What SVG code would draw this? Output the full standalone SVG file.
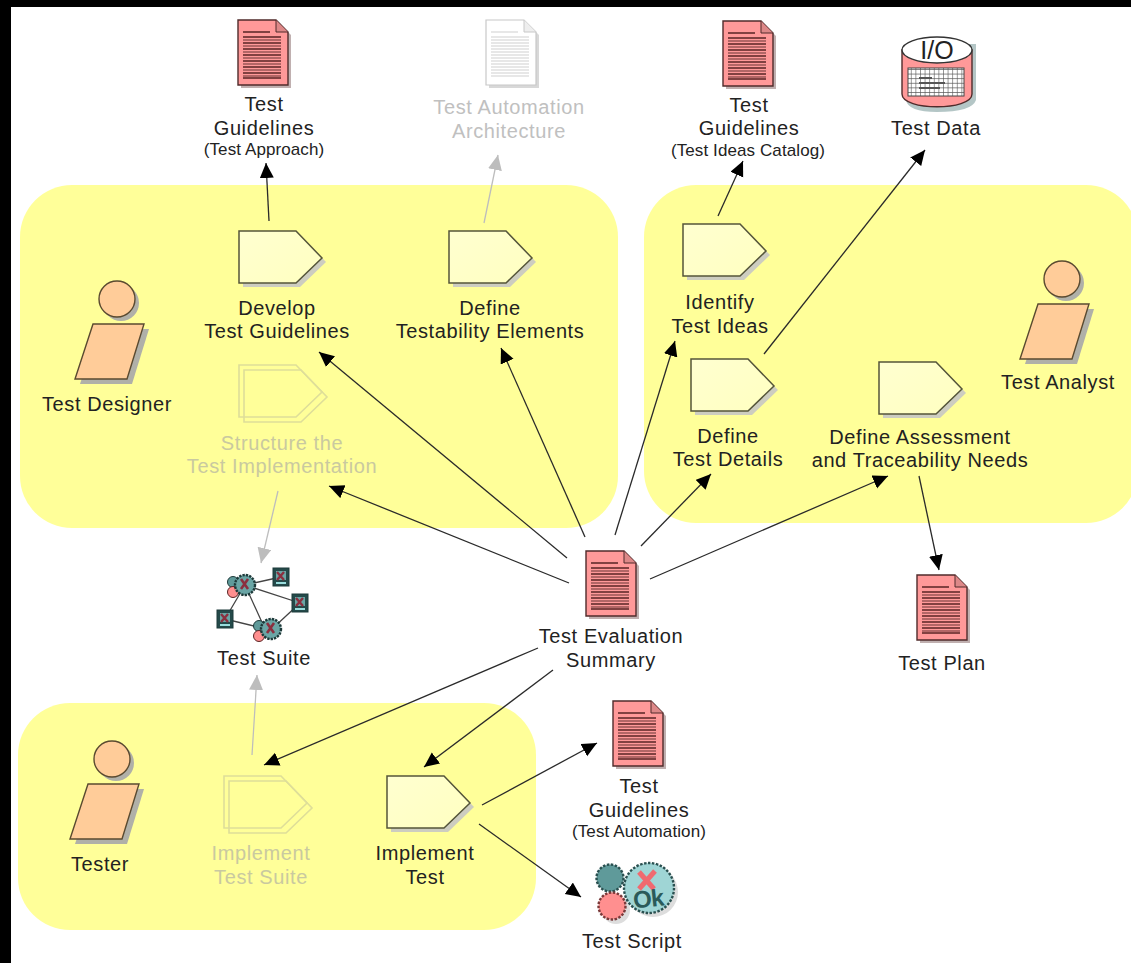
<svg xmlns="http://www.w3.org/2000/svg" width="1131" height="963" viewBox="0 0 1131 963">
<style>
text{font-family:"Liberation Sans",Arial,sans-serif;font-size:20px;letter-spacing:.6px;text-anchor:middle;fill:#222}
.s{font-size:17px;letter-spacing:.1px}
.g{fill:#c0c0c0}
.gy{fill:#c9c9a0}
.r{fill:#ffff99}
.c line{stroke:#2a2a2a;stroke-width:1.3;marker-end:url(#a)}
.c line.l{stroke:#bdbdbd;marker-end:url(#b)}
</style>
<defs>
<marker id="a" markerUnits="userSpaceOnUse" markerWidth="16" markerHeight="16" refX="15" refY="7" orient="auto"><path d="M0 0L15 7L0 14Z" fill="#000"/></marker>
<marker id="b" markerUnits="userSpaceOnUse" markerWidth="16" markerHeight="16" refX="15" refY="7" orient="auto"><path d="M0 0L15 7L0 14Z" fill="#bdbdbd"/></marker>
<linearGradient id="tg" x1="0" y1="0" x2="1" y2="1"><stop offset="0" stop-color="#ffffd0"/><stop offset="1" stop-color="#ffffc0"/></linearGradient>
<g id="task">
<path d="M4 4H61L87 31L61 56H4Z" fill="#cdcdc0"/>
<path d="M0 0H57L83 27L57 52H0Z" fill="url(#tg)" stroke="#55553a" stroke-width="1.5"/>
</g>
<g id="ghost" fill="none" stroke="#dede99" stroke-width="1.6">
<path d="M0 0H57L83 27L57 52H0Z"/>
<path d="M5 5H62L88 32L62 57H5Z"/>
</g>
<g id="doc">
<path d="M3 3H41L53 15V68H3Z" fill="#c0b0b0"/>
<path d="M0 0H38L50 12V65H0Z" fill="#ff9999" stroke="#502b2b" stroke-width="1.4"/>
<path d="M38 0V12H50" fill="#d88" stroke="#502b2b" stroke-width="1"/>
<path d="M5 12H32M5 17H43M5 23H43M5 29H43M5 35H43M5 41H43M5 47H43M5 53H43M5 58H43" stroke="#5a2525" stroke-width="1.3" fill="none"/>
<path d="M5 20H43M5 26H43M5 32H43M5 38H43M5 44H43M5 50H43M5 56H43" stroke="#9a5555" stroke-width="1.3" fill="none"/>
</g>
<g id="gdoc">
<path d="M3 3H41L53 15V68H3Z" fill="#d8d8d8"/>
<path d="M0 0H38L50 12V65H0Z" fill="#fff" stroke="#c8c8c8" stroke-width="1.2"/>
<path d="M38 0V12H50" fill="#eee" stroke="#c8c8c8"/>
<path d="M5 12H32M5 17H43M5 20H43M5 23H43M5 26H43M5 29H43M5 32H43M5 35H43M5 38H43M5 41H43M5 44H43M5 47H43M5 50H43M5 53H43M5 56H43" stroke="#cfcfcf" stroke-width="1" fill="none"/>
</g>
<g id="actor">
<circle cx="46" cy="-21" r="18" fill="#b0b0a8"/>
<path d="M23 5H74L57 60H5Z" fill="#b0b0a8"/>
<circle cx="42" cy="-25" r="18" fill="#ffcc99" stroke="#5a4a30" stroke-width="1.4"/>
<path d="M18 0H69L52 55H0Z" fill="#ffcc99" stroke="#5a4a30" stroke-width="1.4"/>
</g>
<g id="sq">
<rect x="-8" y="-9" width="16" height="18" fill="#244a4a" stroke="#1d3a3a"/>
<rect x="-5" y="-6" width="10" height="9" fill="#6aa5a5"/>
<path d="M-4 -5L3 3M3 -5L-4 3" stroke="#8b2f3f" stroke-width="2.4"/>
<rect x="-5" y="5" width="10" height="2" fill="#9dd"/>
</g>
<g id="clu">
<circle cx="-12" cy="-3" r="5.5" fill="#5f9a9a" stroke="#1d3a3a"/>
<circle cx="-12" cy="7" r="5.5" fill="#ff8f8f" stroke="#5a2525"/>
<circle cx="0" cy="0" r="10" fill="#6aa5a5" stroke="#1d3a3a" stroke-width="2.4" stroke-dasharray="2.4 1"/>
<path d="M-4 -6L3 4M3 -6L-4 4" stroke="#8b2f3f" stroke-width="2.6"/>
</g>
<pattern id="grid" width="4.6" height="4.6" patternUnits="userSpaceOnUse"><rect width="4.6" height="4.6" fill="#fff"/><path d="M0 0H4.6M0 0V4.6" stroke="#555" stroke-width="1.2"/></pattern>
</defs>

<rect width="1131" height="963" fill="#fff"/>
<rect width="1131" height="7" fill="#000"/>
<rect width="11" height="963" fill="#000"/>

<g id="regions">
<rect class="r" x="20" y="185" width="598" height="343" rx="52"/>
<rect class="r" x="644" y="185" width="494" height="338" rx="52"/>
<rect class="r" x="18" y="703" width="518" height="227" rx="52"/>
</g>

<g id="connectors" class="c">
<line x1="269" y1="221" x2="266" y2="163"/>
<line class="l" x1="484" y1="223" x2="498" y2="155"/>
<line x1="718" y1="216" x2="743" y2="161"/>
<line x1="764" y1="354" x2="925" y2="150"/>
<line x1="567" y1="558" x2="319" y2="352"/>
<line x1="585" y1="537" x2="501" y2="348"/>
<line x1="569" y1="583" x2="329" y2="486"/>
<line x1="615" y1="535" x2="675" y2="341"/>
<line x1="641" y1="546" x2="711" y2="474"/>
<line x1="650" y1="579" x2="888" y2="476"/>
<line x1="919" y1="476" x2="939" y2="570"/>
<line class="l" x1="278" y1="491" x2="261" y2="563"/>
<line class="l" x1="252" y1="755" x2="257" y2="675"/>
<line x1="538" y1="648" x2="264" y2="765"/>
<line x1="553" y1="670" x2="424" y2="767"/>
<line x1="482" y1="805" x2="597" y2="743"/>
<line x1="479" y1="824" x2="581" y2="897"/>
</g>

<g id="test-guidelines-approach"><use href="#doc" x="238" y="20"/><text x="264" y="111">Test</text><text x="264" y="135">Guidelines</text><text class="s" x="264" y="155">(Test Approach)</text></g>
<g id="test-automation-architecture"><use href="#gdoc" x="486" y="20"/><text class="g" x="509" y="114">Test Automation</text><text class="g" x="509" y="138">Architecture</text></g>
<g id="test-guidelines-ideas"><use href="#doc" x="723" y="21"/><text x="749" y="112">Test</text><text x="749" y="135">Guidelines</text><text class="s" x="748" y="156">(Test Ideas Catalog)</text></g>
<g id="test-data">
<path d="M906 44H976V100Q972 112 937 112Q908 112 906 100Z" fill="#b4c6c6"/>
<path d="M902 50V94C902 111 972 111 972 94V50Z" fill="#ff9999" stroke="#502b2b" stroke-width="1.4"/>
<ellipse cx="937" cy="50" rx="35" ry="13" fill="#fff" stroke="#333" stroke-width="1.4"/>
<rect x="908" y="68" width="56" height="28" fill="url(#grid)" stroke="#444"/>
<path d="M919 78H932M919 83H945M919 88H940" stroke="#555" stroke-width="2" fill="none"/>
<text x="937" y="59" style="font-size:25px;letter-spacing:0">I/O</text>
<text x="936" y="135">Test Data</text>
</g>
<g id="develop-test-guidelines"><use href="#task" x="239" y="231"/><text x="277" y="315">Develop</text><text x="277" y="338">Test Guidelines</text></g>
<g id="define-testability-elements"><use href="#task" x="449" y="231"/><text x="490" y="315">Define</text><text x="490" y="338">Testability Elements</text></g>
<g id="identify-test-ideas"><use href="#task" x="683" y="224"/><text x="720" y="309">Identify</text><text x="720" y="333">Test Ideas</text></g>
<g id="define-test-details"><use href="#task" x="691" y="359"/><text x="728" y="443">Define</text><text x="728" y="466">Test Details</text></g>
<g id="define-assessment"><use href="#task" x="879" y="362"/><text x="920" y="444">Define Assessment</text><text x="920" y="467">and Traceability Needs</text></g>
<g id="test-analyst"><use href="#actor" x="1020" y="304"/><text x="1058" y="389">Test Analyst</text></g>
<g id="test-designer"><use href="#actor" x="75" y="324"/><text x="107" y="411">Test Designer</text></g>
<g id="structure-test-implementation"><use href="#ghost" x="239" y="365"/><text class="gy" x="282" y="450">Structure the</text><text class="gy" x="282" y="473">Test Implementation</text></g>
<g id="test-suite">
<path d="M245 585L281 577M245 585L300 603M245 585L225 619M245 585L265 629M225 619L262 628M300 603L272 629" stroke="#444" stroke-width="1.3" fill="none"/>
<use href="#clu" x="245" y="585"/><use href="#clu" x="271" y="629"/>
<use href="#sq" x="281" y="577"/><use href="#sq" x="300" y="603"/><use href="#sq" x="225" y="619"/>
<text x="264" y="665">Test Suite</text>
</g>
<g id="test-evaluation-summary"><use href="#doc" x="586" y="551"/><text x="611" y="643">Test Evaluation</text><text x="611" y="667">Summary</text></g>
<g id="test-plan"><use href="#doc" x="917" y="575"/><text x="942" y="670">Test Plan</text></g>
<g id="tester"><use href="#actor" x="70" y="784"/><text x="100" y="871">Tester</text></g>
<g id="implement-test-suite"><use href="#ghost" x="224" y="776"/><text class="gy" x="261" y="860">Implement</text><text class="gy" x="261" y="884">Test Suite</text></g>
<g id="implement-test"><use href="#task" x="387" y="776"/><text x="425" y="860">Implement</text><text x="425" y="884">Test</text></g>
<g id="test-guidelines-automation"><use href="#doc" x="613" y="701"/><text x="639" y="793">Test</text><text x="639" y="817">Guidelines</text><text class="s" x="639" y="837">(Test Automation)</text></g>
<g id="test-script">
<circle cx="653" cy="892" r="25" fill="#ddd"/>
<circle cx="616" cy="910" r="14" fill="#ddd"/>
<circle cx="610" cy="878" r="13.5" fill="#5f9a9a" stroke="#2a5050" stroke-width="2.4" stroke-dasharray="2.5 1.5"/>
<circle cx="612" cy="906" r="13.5" fill="#ff8f8f" stroke="#7a3a3a" stroke-width="2.4" stroke-dasharray="2.5 1.5"/>
<circle cx="649" cy="888" r="25" fill="#9fd5d5" stroke="#2a5050" stroke-width="2.4" stroke-dasharray="2.5 1.5"/>
<path d="M639 872L654 889M655 871L639 889" stroke="#f06a70" stroke-width="5"/>
<text x="649" y="907" transform="rotate(-6 649 907)" style="font-size:24px;font-weight:bold;letter-spacing:-1px;fill:#2a5a5a">Ok</text>
<text x="632" y="948">Test Script</text>
</g>
</svg>
